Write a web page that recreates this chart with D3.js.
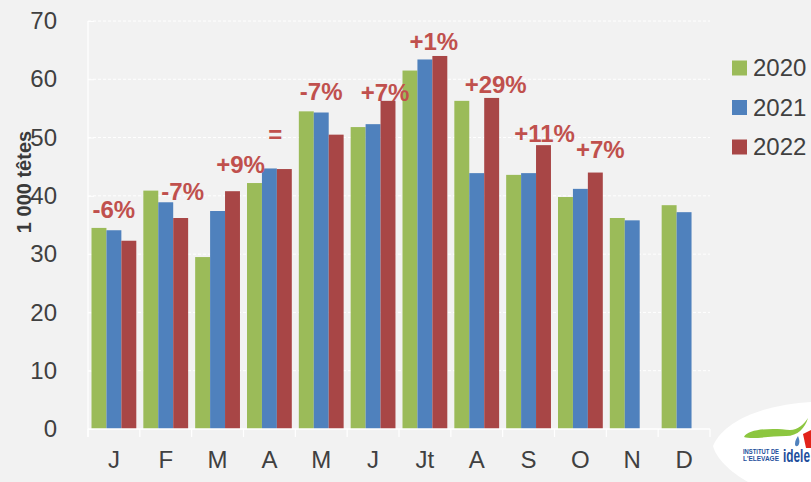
<!DOCTYPE html>
<html>
<head>
<meta charset="utf-8">
<script src="https://cdn.jsdelivr.net/npm/d3@7"></script>
<style>
  body { margin: 0; background: #f2f2f2; }
  svg { display: block; font-family: "Liberation Sans", Arial, sans-serif; }
</style>
</head>
<body>
<div id="chart"></div>
<script>
// data (thousand head)
let months = ["J", "F", "M", "A", "M ", "J ", "Jt", "A ", "S", "O", "N", "D"]
let years = ["2020", "2021", "2022"]
let v2020 = [34.5, 40.9, 29.5, 42.2, 54.5, 51.8, 61.5, 56.3, 43.6, 39.8, 36.2, 38.4]
let v2021 = [34.1, 38.9, 37.4, 44.7, 54.3, 52.3, 63.4, 43.9, 43.9, 41.2, 35.8, 37.2]
let v2022 = [32.3, 36.2, 40.8, 44.6, 50.5, 56.3, 64.0, 56.8, 48.7, 44.0, null, null]
let changes = ["-6%", "-7%", "+9%", "=", "-7%", "+7%", "+1%", "+29%", "+11%", "+7%"]
let yTicks = [0, 10, 20, 30, 40, 50, 60, 70]

// label nudges relative to the 2022 bar (layout only)
let labelShift = [[-15, -23], [2, -18], [8, -18], [-9, -26], [-15, -35], [-3, 0], [-6, -6], [4, -5], [1, -3], [5, -15]]

let width = 811
let height = 482
let plotLeft = 88, plotRight = 710, plotTop = 21, plotBottom = 429

let colors = d3.scaleOrdinal()
    .domain(years)
    .range(["#9bbb59", "#4f81bd", "#a84646"])

let svg = d3.select("#chart")
    .append("svg")
    .attr("width", width)
    .attr("height", height)
    .style("background", "#f2f2f2")

let x0 = d3.scaleBand()
    .domain(months)
    .range([plotLeft, plotRight])

let x1 = d3.scaleBand()
    .domain(years)
    .range([3.5, 48.3])

let y = d3.scaleLinear()
    .domain([0, 70])
    .range([plotBottom, plotTop])

let series = { "2020": v2020, "2021": v2021, "2022": v2022 }

// gridlines
svg.append("g")
    .selectAll("line")
    .data(yTicks.filter(d => d > 0))
    .enter()
    .append("line")
    .attr("x1", plotLeft)
    .attr("x2", plotRight)
    .attr("y1", d => y(d))
    .attr("y2", d => y(d))
    .style("stroke", "#ffffff")
    .style("stroke-width", 1)
    .style("stroke-dasharray", "3,2")

// y axis
let yAxis = d3.axisLeft(y)
    .tickValues(yTicks)
    .tickSize(-6)
    .tickPadding(31)

let gy = svg.append("g")
    .attr("transform", "translate(" + plotLeft + ",0)")
    .call(yAxis)
gy.select(".domain").remove()
gy.selectAll("line").style("stroke", "#ffffff")
gy.selectAll("text")
    .style("font-size", "24px")
    .style("fill", "#404040")

svg.append("line")
    .attr("x1", plotLeft).attr("x2", plotLeft)
    .attr("y1", plotTop).attr("y2", plotBottom + 8)
    .style("stroke", "#ffffff")
    .style("stroke-width", 1.2)

// bars
let groups = svg.append("g")
    .selectAll("g")
    .data(months)
    .enter()
    .append("g")
    .attr("transform", d => "translate(" + x0(d) + ",0)")

groups.selectAll("rect")
    .data((d, i) => years.map(k => ({ year: k, value: series[k][i] })).filter(e => e.value != null))
    .enter()
    .append("rect")
    .attr("x", d => x1(d.year))
    .attr("width", x1.bandwidth())
    .attr("y", d => y(d.value))
    .attr("height", d => y(0) - y(d.value))
    .style("fill", d => colors(d.year))

// x axis
let xAxis = d3.axisBottom(x0).tickSize(0).tickPadding(22)
let gx = svg.append("g")
    .attr("transform", "translate(0," + plotBottom + ")")
    .call(xAxis)
gx.select(".domain").remove()
gx.selectAll("text")
    .style("font-size", "24px")
    .style("fill", "#404040")
    .text(d => d.trim())

svg.append("line")
    .attr("x1", plotLeft).attr("x2", plotRight)
    .attr("y1", plotBottom).attr("y2", plotBottom)
    .style("stroke", "#ffffff")
    .style("stroke-width", 1.5)

svg.append("g")
    .selectAll("line")
    .data(months.concat(["end"]))
    .enter()
    .append("line")
    .attr("x1", (d, i) => plotLeft + i * x0.step())
    .attr("x2", (d, i) => plotLeft + i * x0.step())
    .attr("y1", plotBottom)
    .attr("y2", plotBottom + 8)
    .style("stroke", "#ffffff")
    .style("stroke-width", 1.2)

// change labels above 2022 bars
svg.append("g")
    .selectAll("text")
    .data(changes)
    .enter()
    .append("text")
    .attr("x", (d, i) => x0(months[i]) + x1("2022") + x1.bandwidth() / 2 + labelShift[i][0])
    .attr("y", (d, i) => y(v2022[i]) + labelShift[i][1])
    .attr("text-anchor", "middle")
    .style("font-size", "24px")
    .style("font-weight", "bold")
    .style("fill", "#c0504d")
    .text(d => d)

// y title
svg.append("text")
    .attr("transform", "translate(31,182) rotate(-90)")
    .attr("text-anchor", "middle")
    .style("font-size", "20px")
    .style("font-weight", "bold")
    .style("fill", "#3a3a3a")
    .text("1 000 têtes")

// legend
let legend = svg.append("g")
    .selectAll("g")
    .data(years)
    .enter()
    .append("g")
    .attr("transform", (d, i) => "translate(732," + (68 + i * 39.5) + ")")

legend.append("rect")
    .attr("x", 0)
    .attr("y", -7.5)
    .attr("width", 15)
    .attr("height", 15)
    .style("fill", d => colors(d))

legend.append("text")
    .attr("x", 21)
    .attr("y", 0)
    .attr("dy", "0.35em")
    .style("font-size", "24px")
    .style("fill", "#404040")
    .text(d => d)

// logo corner
let logo = svg.append("g")
logo.append("path")
    .attr("d", "M713,446 C725,418 770,404 811,402 L811,482 L748,482 C730,472 716,458 713,446 Z")
    .style("fill", "#ffffff")
logo.append("path")
    .attr("d", "M744,437 C748,428 775,428 790,430 C798,430 804,424 808,418 C805,428 798,436 786,436 C770,436 752,440 744,437 Z")
    .style("fill", "#8cc63f")
logo.append("path")
    .attr("d", "M795,444 C795,440 797,438 798,436 C799,439 800,441 799,444 C798,447 795,447 795,444 Z")
    .style("fill", "#4f81bd")
logo.append("path")
    .attr("d", "M803,434 L811,430 L811,448 L806,448 Z")
    .style("fill", "#e2231a")
logo.append("text")
    .attr("x", 743).attr("y", 454)
    .attr("textLength", 36).attr("lengthAdjust", "spacingAndGlyphs")
    .style("font-size", "6.5px").style("font-weight", "bold").style("fill", "#1d4f9c")
    .text("INSTITUT DE")
logo.append("text")
    .attr("x", 743).attr("y", 461)
    .attr("textLength", 36).attr("lengthAdjust", "spacingAndGlyphs")
    .style("font-size", "6.5px").style("font-weight", "bold").style("fill", "#1d4f9c")
    .text("L'ELEVAGE")
logo.append("text")
    .attr("x", 783).attr("y", 462)
    .attr("textLength", 27).attr("lengthAdjust", "spacingAndGlyphs")
    .style("font-size", "18px").style("font-weight", "bold").style("fill", "#1d4f9c")
    .text("idele")
</script>
</body>
</html>
